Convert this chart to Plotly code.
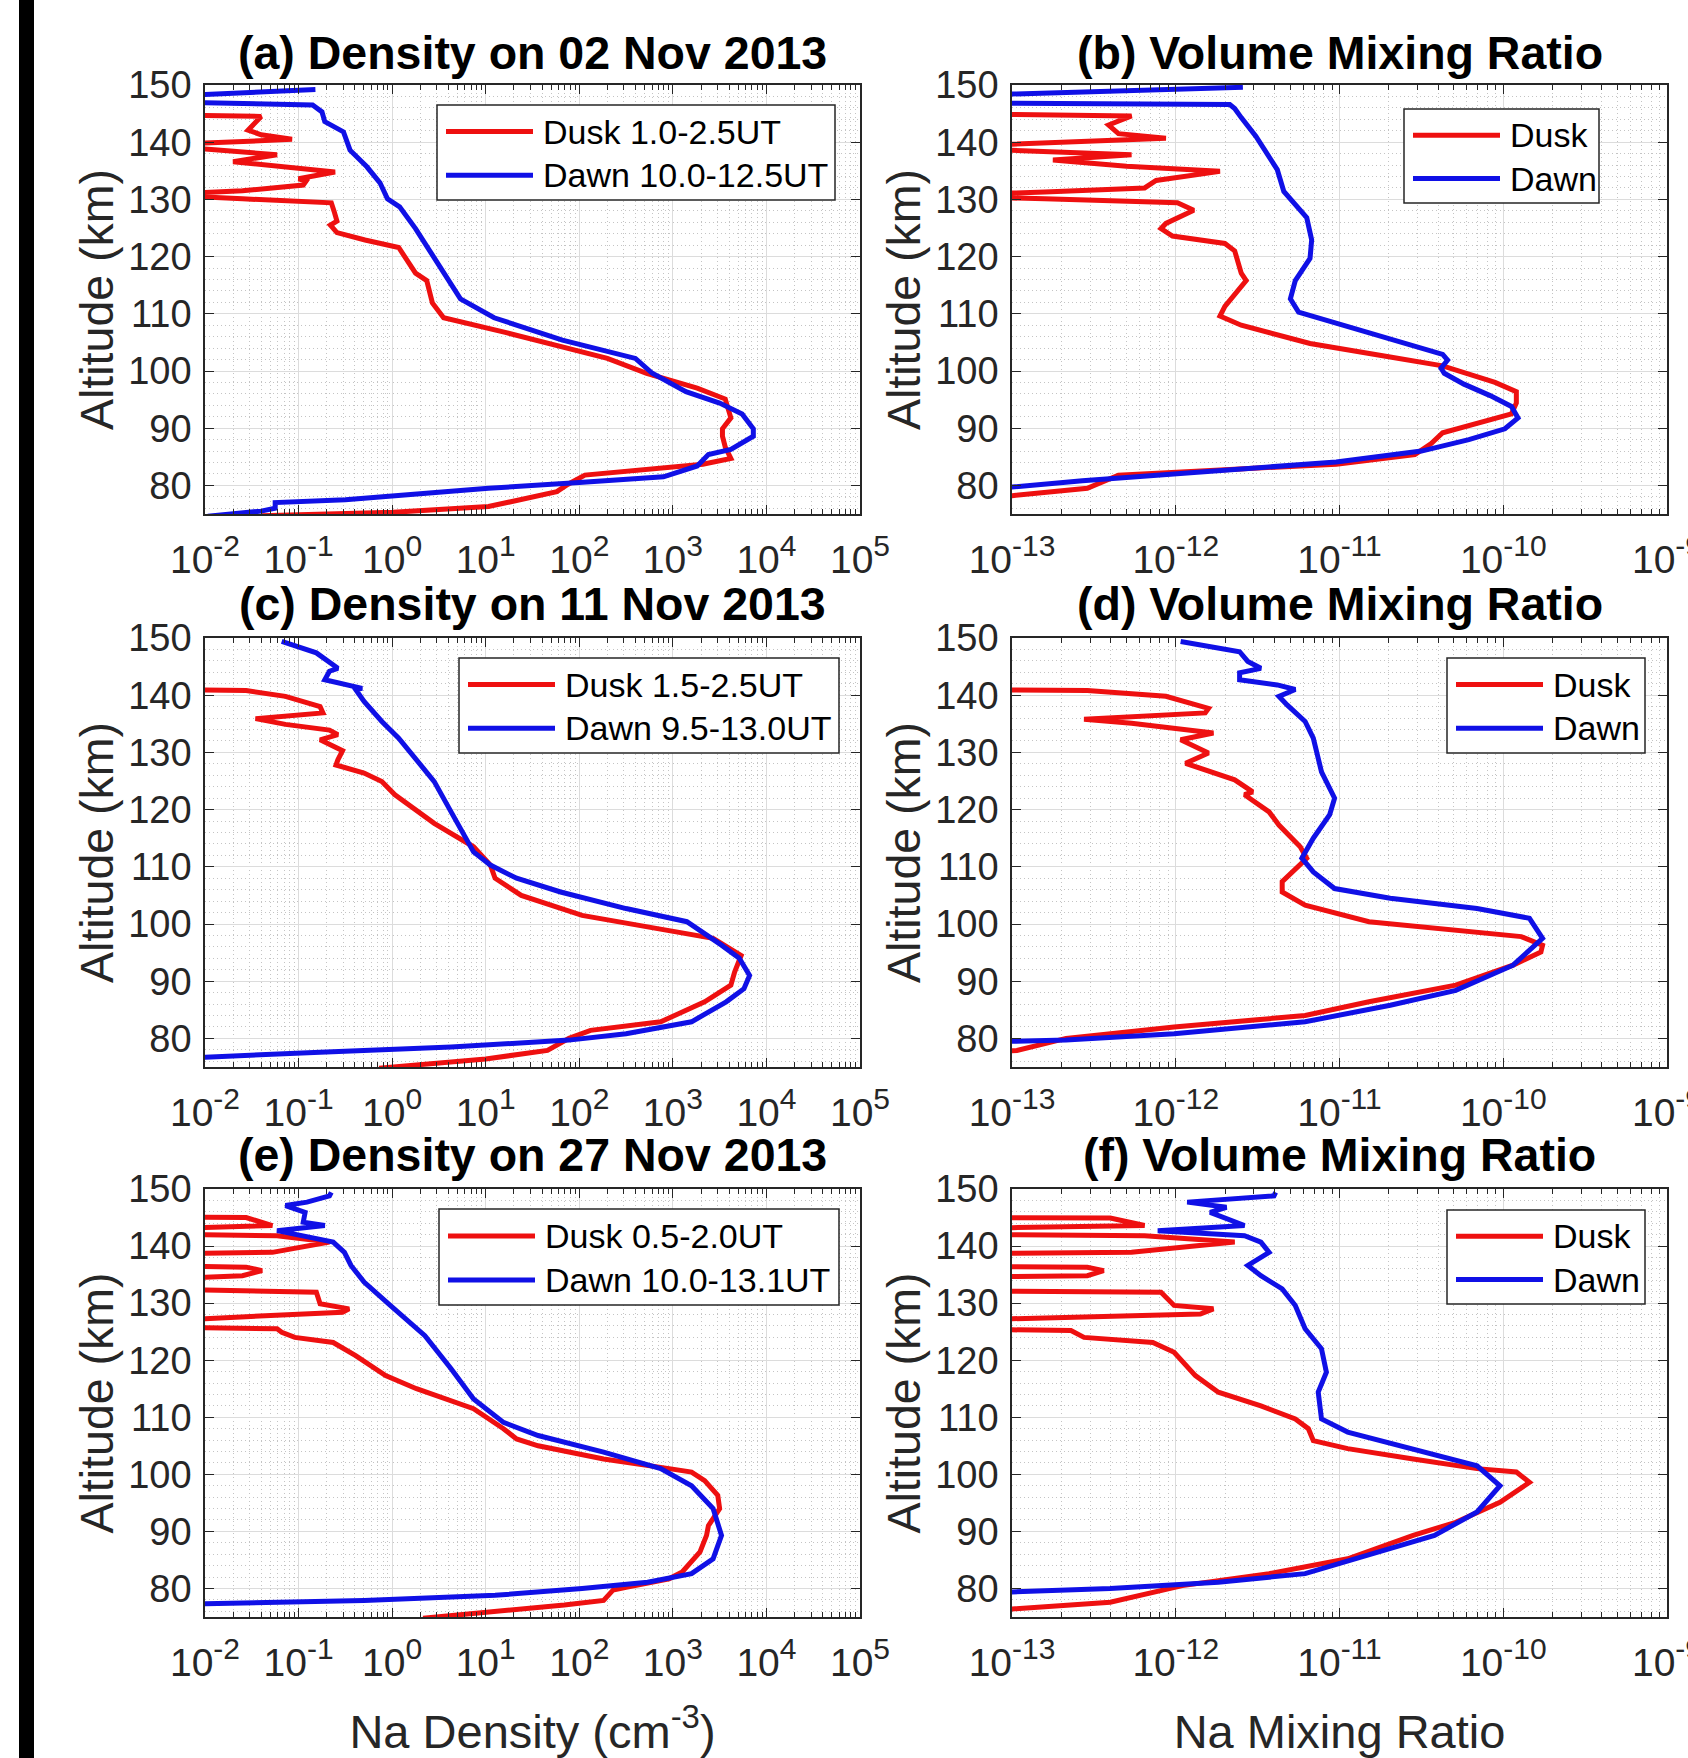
import plotly.graph_objects as go

W, H = 1688, 1758

# ---------------- data (altitude in km, values as log10) ----------------
# (a) density 02 Nov 2013 (log10 cm^-3)
a_dusk_alt = [74.7, 75.3, 76.3, 78.9, 80.2, 81.8, 83.7, 84.7, 86.7, 88.6, 89.9, 91.8, 95.1, 97.0, 99.6,
              102.2, 106.7, 109.3, 111.9, 115.8, 117.1, 121.6, 122.9, 124.2, 125.5, 126.2, 127.9, 129.4,
              130.1, 130.8, 131.5, 132.5, 133.2, 133.6, 134.8, 135.8, 136.6, 137.8, 138.3, 139.5, 140.5,
              141.3, 142.1, 144.5, 144.8]
a_dusk_log = [-1.40, 0.01, 1.03, 1.76, 1.88, 2.06, 3.32, 3.62, 3.56, 3.53, 3.53, 3.62, 3.56, 3.26, 2.72,
              2.30, 1.22, 0.55, 0.43, 0.37, 0.25, 0.07, -0.29, -0.59, -0.66, -0.59, -0.62, -0.65,
              -1.60, -2.50, -1.60, -0.95, -0.92, -1.00, -0.61, -1.20, -1.70, -1.23, -1.60, -2.50, -1.07,
              -1.40, -1.54, -1.40, -2.50]
a_dawn_alt = [74.6, 75.5, 76.0, 77.0, 77.5, 78.2, 79.5, 80.5, 81.5, 83.4, 85.4, 86.3, 88.6, 89.9, 92.5,
              94.4, 96.4, 99.6, 102.2, 105.4, 109.3, 112.6, 117.1, 124.9, 128.7, 130.1, 132.9, 135.7,
              138.6, 141.8, 143.6, 145.3, 146.5, 147.1, 148.0, 149.2]
a_dawn_log = [-1.97, -1.40, -1.25, -1.25, -0.50, 0.01, 1.03, 2.00, 2.90, 3.26, 3.38, 3.62, 3.86, 3.86, 3.74,
              3.50, 3.14, 2.78, 2.60, 1.82, 1.09, 0.73, 0.55, 0.25, 0.08, -0.05, -0.13, -0.27,
              -0.45, -0.52, -0.72, -0.75, -0.85, -2.50, -2.50, -0.82]

# (b) volume mixing ratio 02 Nov 2013 (log10)
b_dusk_alt = [77.5, 78.2, 79.5, 81.8, 82.8, 83.7, 85.4, 87.3, 89.2, 90.5, 92.5, 94.4, 96.4, 98.0, 100.9,
              102.5, 104.8, 108.0, 109.6, 111.3, 115.8, 117.1, 121.0, 122.3, 123.6, 124.9, 125.8, 128.1,
              129.4, 130.1, 130.6, 131.3, 132.0, 133.3, 134.9, 135.8, 136.9, 137.8, 138.3, 139.1, 140.7,
              141.5, 143.0, 144.6, 145.0]
b_dusk_log = [-13.3, -13.0, -12.54, -12.35, -11.67, -11.02, -10.54, -10.44, -10.37, -10.21, -9.95, -9.92,
              -9.92, -10.05, -10.37, -10.70, -11.18, -11.60, -11.73, -11.70, -11.57, -11.60, -11.64, -11.70,
              -12.02, -12.09, -12.06, -11.89, -11.99, -12.80, -13.50, -12.80, -12.19, -12.12, -11.73, -12.30,
              -12.75, -12.27, -12.70, -13.50, -12.06, -12.35, -12.41, -12.27, -13.50]
b_dawn_alt = [79.5, 79.7, 80.8, 82.8, 84.1, 86.0, 88.0, 89.9, 91.8, 93.8, 95.7, 97.7, 99.6, 100.5, 101.9,
              102.9, 104.8, 108.0, 110.3, 112.6, 115.8, 119.7, 122.9, 126.8, 131.4, 135.2, 137.8, 141.0,
              144.3, 145.9, 146.6, 146.9, 148.0, 149.6]
b_dawn_log = [-13.3, -13.0, -12.57, -11.67, -11.02, -10.50, -10.21, -9.99, -9.91, -9.95, -10.08, -10.24,
              -10.36, -10.38, -10.34, -10.37, -10.60, -10.96, -11.25, -11.30, -11.27, -11.18, -11.17, -11.20,
              -11.34, -11.38, -11.44, -11.51, -11.60, -11.64, -11.67, -13.50, -13.50, -11.59]

# (c) density 11 Nov 2013
c_dusk_alt = [74.8, 76.4, 77.9, 80.0, 81.4, 82.9, 84.3, 86.4, 89.3, 91.6, 94.5, 97.5, 99.5, 101.5, 105.0,
              108.0, 110.3, 113.5, 117.6, 122.6, 124.9, 126.4, 127.8, 128.7, 130.3, 132.2, 133.1, 133.9,
              134.9, 135.9, 136.9, 138.0, 139.8, 140.8, 141.0]
c_dusk_log = [-0.14, 1.00, 1.66, 1.89, 2.12, 2.87, 3.06, 3.34, 3.62, 3.66, 3.73, 3.43, 2.73, 2.03, 1.38,
              1.10, 1.05, 0.87, 0.45, 0.03, -0.11, -0.30, -0.60, -0.58, -0.53, -0.77, -0.58, -0.67,
              -1.14, -1.46, -0.74, -0.77, -1.14, -1.56, -2.50]
c_dawn_alt = [76.6, 76.7, 77.6, 78.5, 79.7, 80.8, 82.9, 86.4, 88.7, 91.0, 94.0, 96.3, 100.4, 102.7, 105.6,
              108.0, 110.3, 112.6, 119.6, 124.9, 132.5, 135.4, 138.9, 141.0, 141.2, 141.8, 142.7, 144.2,
              144.7, 147.4, 149.4]
c_dawn_log = [-2.50, -2.00, -0.77, 0.63, 1.89, 2.50, 3.20, 3.57, 3.76, 3.82, 3.71, 3.52, 3.15, 2.50, 1.80,
              1.33, 1.05, 0.87, 0.63, 0.45, 0.07, -0.11, -0.30, -0.39, -0.32, -0.49, -0.72, -0.67,
              -0.58, -0.81, -1.18]

# (d) volume mixing ratio 11 Nov 2013
d_dusk_alt = [77.5, 77.9, 80.0, 82.0, 84.0, 86.4, 89.3, 92.8, 95.1, 96.3, 97.8, 99.2, 100.4, 103.3, 105.6,
              107.4, 109.7, 111.5, 113.5, 117.3, 119.6, 122.6, 123.1, 123.7, 125.2, 128.1, 129.9, 132.2,
              133.4, 135.1, 135.8, 136.9, 137.7, 139.8, 140.8, 141.0]
d_dusk_log = [-13.2, -12.97, -12.67, -12.01, -11.21, -10.82, -10.29, -9.94, -9.77, -9.76, -9.89, -10.42,
              -10.82, -11.21, -11.35, -11.35, -11.27, -11.20, -11.24, -11.37, -11.43, -11.58, -11.53, -11.56,
              -11.64, -11.94, -11.80, -11.97, -11.77, -12.27, -12.56, -11.82, -11.80, -12.06, -12.54, -13.50]
d_dawn_alt = [79.3, 79.4, 79.7, 80.8, 82.9, 85.8, 88.4, 92.8, 97.5, 101.0, 102.7, 104.5, 106.2, 109.1,
              111.5, 115.0, 119.1, 122.0, 126.6, 132.5, 135.4, 138.3, 139.8, 141.0, 141.8, 142.7, 143.9,
              144.7, 145.9, 147.6, 149.4]
d_dawn_log = [-13.3, -13.0, -12.67, -12.01, -11.21, -10.69, -10.29, -9.94, -9.76, -9.84, -10.16, -10.69,
              -11.03, -11.16, -11.23, -11.16, -11.06, -11.03, -11.11, -11.16, -11.21, -11.32, -11.37,
              -11.27, -11.38, -11.61, -11.61, -11.48, -11.56, -11.61, -11.97]

# (e) density 27 Nov 2013
e_dusk_alt = [74.8, 75.9, 77.1, 77.9, 79.7, 80.2, 81.7, 82.9, 86.4, 89.3, 91.0, 94.0, 96.3, 98.9, 100.4,
              101.0, 102.7, 105.0, 106.2, 108.0, 111.5, 115.0, 117.3, 120.8, 123.1, 124.0, 124.9, 125.5,
              125.8, 126.9, 128.4, 129.0, 129.9, 131.9, 132.5, 134.2, 134.8, 135.7, 136.3, 136.6, 138.6,
              138.9, 140.7, 141.8, 142.1, 143.0, 143.6, 145.0, 145.1]
e_dusk_log = [0.33, 1.10, 1.84, 2.26, 2.36, 2.50, 2.96, 3.10, 3.29, 3.36, 3.38, 3.50, 3.48, 3.34, 3.20,
              2.96, 2.26, 1.56, 1.33, 1.19, 0.87, 0.26, -0.07, -0.39, -0.63, -1.04, -1.18, -1.23,
              -2.50, -2.50, -0.53, -0.46, -0.77, -0.81, -2.50, -2.50, -1.60, -1.39, -1.56, -2.50, -2.50,
              -1.28, -0.67, -1.23, -2.50, -2.50, -1.28, -1.56, -2.50]
e_dawn_alt = [77.2, 77.3, 77.9, 78.8, 80.0, 81.1, 82.6, 85.2, 89.3, 94.0, 98.0, 101.0, 103.9, 106.8, 109.1,
              113.2, 118.5, 124.3, 129.6, 133.7, 136.6, 138.9, 140.7, 141.8, 142.7, 143.6, 144.2, 145.9,
              147.1, 147.7, 148.8, 149.4]
e_dawn_log = [-2.50, -2.00, -0.30, 1.10, 2.03, 2.73, 3.20, 3.43, 3.52, 3.43, 3.20, 2.87, 2.26, 1.56, 1.19,
              0.87, 0.63, 0.35, -0.02, -0.30, -0.44, -0.51, -0.63, -0.95, -1.23, -0.72, -0.95, -0.93,
              -1.14, -0.91, -0.67, -0.65]

# (f) volume mixing ratio 27 Nov 2013
f_dusk_alt = [76.2, 76.4, 77.6, 78.8, 79.7, 80.5, 82.6, 85.2, 89.3, 91.6, 95.1, 98.6, 100.4, 101.0, 102.7,
              104.5, 105.9, 108.0, 109.7, 112.0, 114.4, 117.3, 121.4, 123.1, 124.0, 125.2, 125.5, 126.9,
              128.1, 129.0, 129.6, 131.9, 132.2, 134.5, 134.8, 135.7, 136.3, 136.5, 138.6, 138.9, 140.7,
              141.8, 142.1, 143.0, 143.6, 144.9, 145.0]
f_dusk_log = [-13.3, -13.0, -12.40, -12.22, -12.11, -11.96, -11.43, -10.95, -10.55, -10.29, -10.02, -9.84,
              -9.92, -10.16, -10.55, -10.95, -11.16, -11.19, -11.27, -11.48, -11.74, -11.88, -12.01, -12.14,
              -12.56, -12.64, -13.50, -13.50, -11.85, -11.77, -12.01, -12.09, -13.50, -13.50, -12.54, -12.44,
              -12.54, -13.50, -13.50, -12.27, -11.64, -12.19, -13.50, -13.50, -12.19, -12.40, -13.50]
f_dawn_alt = [79.3, 79.4, 80.0, 81.1, 82.6, 85.8, 89.3, 93.4, 98.0, 101.5, 104.5, 107.4, 109.7, 114.4, 117.9,
              122.0, 125.5, 129.6, 132.5, 134.8, 136.6, 138.9, 140.7, 141.8, 142.7, 143.6, 145.9, 146.8,
              147.7, 148.8, 149.4]
f_dawn_log = [-13.3, -13.0, -12.40, -11.74, -11.21, -10.82, -10.42, -10.16, -10.02, -10.16, -10.55, -10.95,
              -11.11, -11.13, -11.08, -11.11, -11.21, -11.27, -11.35, -11.48, -11.56, -11.43, -11.48, -11.58,
              -12.11, -11.58, -11.79, -11.69, -11.93, -11.40, -11.39]

titles = ["(a) Density on 02 Nov 2013", "(b) Volume Mixing Ratio",
          "(c) Density on 11 Nov 2013", "(d) Volume Mixing Ratio",
          "(e) Density on 27 Nov 2013", "(f) Volume Mixing Ratio"]
dusk_labels = ["Dusk 1.0-2.5UT", "Dusk", "Dusk 1.5-2.5UT", "Dusk", "Dusk 0.5-2.0UT", "Dusk"]
dawn_labels = ["Dawn 10.0-12.5UT", "Dawn", "Dawn 9.5-13.0UT", "Dawn", "Dawn 10.0-13.1UT", "Dawn"]
den_exponents = [-2, -1, 0, 1, 2, 3, 4, 5]
vmr_exponents = [-13, -12, -11, -10, -9]
alt_ticks = [80, 90, 100, 110, 120, 130, 140, 150]
xlabel_den = "Na Density (cm<sup>-3</sup>)"
xlabel_vmr = "Na Mixing Ratio"
ylabel = "Altitude (km)"

series = [
    (a_dusk_alt, a_dusk_log, a_dawn_alt, a_dawn_log),
    (b_dusk_alt, b_dusk_log, b_dawn_alt, b_dawn_log),
    (c_dusk_alt, c_dusk_log, c_dawn_alt, c_dawn_log),
    (d_dusk_alt, d_dusk_log, d_dawn_alt, d_dawn_log),
    (e_dusk_alt, e_dusk_log, e_dawn_alt, e_dawn_log),
    (f_dusk_alt, f_dusk_log, f_dawn_alt, f_dawn_log),
]

# ---------------- layout geometry (pixels) ----------------
COLS = [(205, 860), (1012, 1667)]
ROWS = [(85, 514), (638, 1067), (1189, 1617)]
TITLE_OFFSET = [32, 34, 34]
# legend boxes: (x0, x1, y0, y1)
LEG = [(437, 835, 105, 200), (1404, 1599, 109, 203),
       (459, 839, 658, 753), (1447, 1645, 658, 753),
       (439, 839, 1209, 1305), (1447, 1645, 1210, 1304)]

RED = "#ee1010"
BLUE = "#1010e6"
FONT = "Liberation Sans, Arial, Helvetica, sans-serif"
AX = "#262626"
TICK_FS = 39
SUP_FS = 30


def px(x):
    return x / W


def py(y):
    return 1 - y / H


def pow_label(e):
    return f"10<sup><span style='font-size:{SUP_FS}px'>{e}</span></sup>"


fig = go.Figure()
shapes = []
annotations = []
layout = dict(template="none", width=W, height=H, margin=dict(l=0, r=0, t=0, b=0, pad=0),
              paper_bgcolor="white", plot_bgcolor="white", showlegend=False,
              font=dict(family=FONT, color=AX, size=36))

for i in range(6):
    r, c = divmod(i, 2)
    xn = "x" if i == 0 else f"x{i+1}"
    yn = "y" if i == 0 else f"y{i+1}"
    xk = "xaxis" if i == 0 else f"xaxis{i+1}"
    yk = "yaxis" if i == 0 else f"yaxis{i+1}"
    dk_alt, dk_log, dw_alt, dw_log = series[i]
    fig.add_trace(go.Scatter(x=[10 ** v for v in dk_log], y=dk_alt, mode="lines", name=dusk_labels[i],
                             line=dict(color=RED, width=5), xaxis=xn, yaxis=yn, showlegend=False))
    fig.add_trace(go.Scatter(x=[10 ** v for v in dw_log], y=dw_alt, mode="lines", name=dawn_labels[i],
                             line=dict(color=BLUE, width=5), xaxis=xn, yaxis=yn, showlegend=False))

    exps = den_exponents if c == 0 else vmr_exponents
    x0, x1 = COLS[c]
    y0, y1 = ROWS[r]
    xax = dict(type="log", range=[exps[0], exps[-1]], domain=[px(x0), px(x1)], anchor=yn,
               automargin=False,
               tickmode="array", tickvals=[10 ** e for e in exps],
               ticktext=[pow_label(e) for e in exps],
               ticks="inside", ticklen=9, tickwidth=1.3, tickcolor=AX,
               showline=True, linecolor=AX, linewidth=1.5, mirror="allticks",
               showgrid=True, gridcolor="#dcdcdc", gridwidth=1, zeroline=False,
               tickfont=dict(size=TICK_FS, color=AX, family=FONT), ticklabelstandoff=10,
               ticklabeloverflow="allow",
               minor=dict(dtick="D1", ticks="inside", ticklen=5, tickwidth=1, tickcolor=AX,
                          showgrid=True, gridcolor="#c4c4c4", gridwidth=1, griddash="1px,3px"))
    if r == 2:
        xax["title"] = dict(text=xlabel_den if c == 0 else xlabel_vmr,
                            font=dict(size=47, color=AX, family=FONT), standoff=35)
    yax = dict(range=[75, 150], domain=[py(y1), py(y0)], anchor=xn, automargin=False,
               tickmode="array", tickvals=alt_ticks, ticktext=[str(t) for t in alt_ticks],
               ticks="inside", ticklen=9, tickwidth=1.3, tickcolor=AX,
               showline=True, linecolor=AX, linewidth=1.5, mirror="allticks",
               showgrid=True, gridcolor="#dcdcdc", gridwidth=1, zeroline=False,
               tickfont=dict(size=38, color=AX, family=FONT), ticklabelstandoff=4,
               title=dict(text=ylabel, font=dict(size=46.5, color=AX, family=FONT), standoff=0),
               minor=dict(tick0=0, dtick=2, ticks="", showgrid=True, gridcolor="#c4c4c4",
                          gridwidth=1, griddash="1px,3px"))
    layout[xk] = xax
    layout[yk] = yax

    # panel title
    annotations.append(dict(text=f"<b>{titles[i]}</b>", x=px((x0 + x1) / 2), y=py(y0 - TITLE_OFFSET[r]),
                            xref="paper", yref="paper", xanchor="center", yanchor="middle",
                            showarrow=False, font=dict(size=46.5, color="black", family=FONT)))

    # legend box
    lx0, lx1, ly0, ly1 = LEG[i]
    shapes.append(dict(type="rect", xref="paper", yref="paper", x0=px(lx0), x1=px(lx1),
                       y0=py(ly1), y1=py(ly0), fillcolor="white",
                       line=dict(color=AX, width=1.5), layer="above"))
    rows_y = [ly0 + (ly1 - ly0) * 0.28, ly0 + (ly1 - ly0) * 0.74]
    for k, (col, lab) in enumerate([(RED, dusk_labels[i]), (BLUE, dawn_labels[i])]):
        yy = rows_y[k]
        shapes.append(dict(type="line", xref="paper", yref="paper", x0=px(lx0 + 9), x1=px(lx0 + 96),
                           y0=py(yy), y1=py(yy), line=dict(color=col, width=5), layer="above"))
        annotations.append(dict(text=lab, x=px(lx0 + 104), y=py(yy), xref="paper", yref="paper",
                                xanchor="left", yanchor="middle", showarrow=False,
                                font=dict(size=34, color="black", family=FONT)))

# black bar on the left edge
shapes.append(dict(type="rect", xref="paper", yref="paper", x0=px(19), x1=px(34), y0=0, y1=1,
                   fillcolor="black", line=dict(width=0), layer="above"))

layout["shapes"] = shapes
layout["annotations"] = annotations
fig.update_layout(**layout)
fig.write_html("out.html")
